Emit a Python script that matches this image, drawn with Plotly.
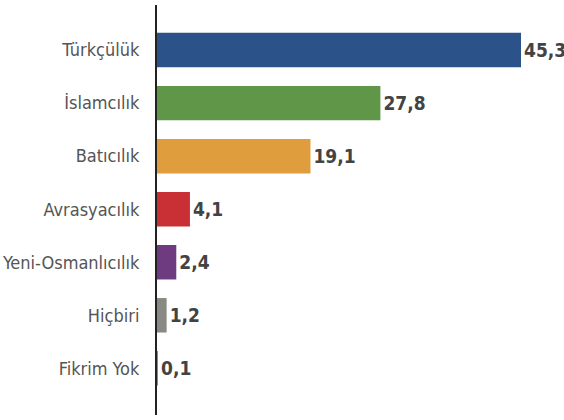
import plotly.graph_objects as go

categories = ["Türkçülük", "İslamcılık", "Batıcılık", "Avrasyacılık",
              "Yeni-Osmanlıcılık", "Hiçbiri", "Fikrim Yok"]
values = [45.3, 27.8, 19.1, 4.1, 2.4, 1.2, 0.1]
labels = ["45,3", "27,8", "19,1", "4,1", "2,4", "1,2", "0,1"]
colors = ["#2b5289", "#5f9648", "#e09d3d", "#c93035", "#6e3b80", "#888a83", "#888a83"]

FONT = "DejaVu Sans Condensed, DejaVu Sans"

fig = go.Figure(go.Bar(
    x=values,
    y=categories,
    orientation="h",
    width=0.65,
    marker=dict(color=colors, line=dict(width=0)),
    text=labels,
    texttemplate="<b>%{text}</b>",
    textposition="outside",
    cliponaxis=False,
    textfont=dict(family=FONT, size=19, color="#434343"),
    hoverinfo="skip",
))

fig.update_layout(
    width=564,
    height=420,
    margin=dict(l=157, r=0, t=5, b=5),
    plot_bgcolor="white",
    paper_bgcolor="white",
    showlegend=False,
)

fig.update_xaxes(range=[0, 50.65], visible=False, showgrid=False, zeroline=False)
fig.update_yaxes(
    type="category",
    categoryorder="array",
    categoryarray=categories,
    range=[6.88, -0.85],
    automargin=False,
    showgrid=False,
    zeroline=False,
    showline=True,
    linecolor="#222222",
    linewidth=2,
    ticks="",
    ticklabelstandoff=12,
    tickfont=dict(family=FONT, size=18, color="#555555"),
)

# the page body has a default 8px margin; drop it so the figure sits at 0,0
fig.write_html("out.html", config={"displayModeBar": False},
               post_script="document.body.style.margin='0';")
